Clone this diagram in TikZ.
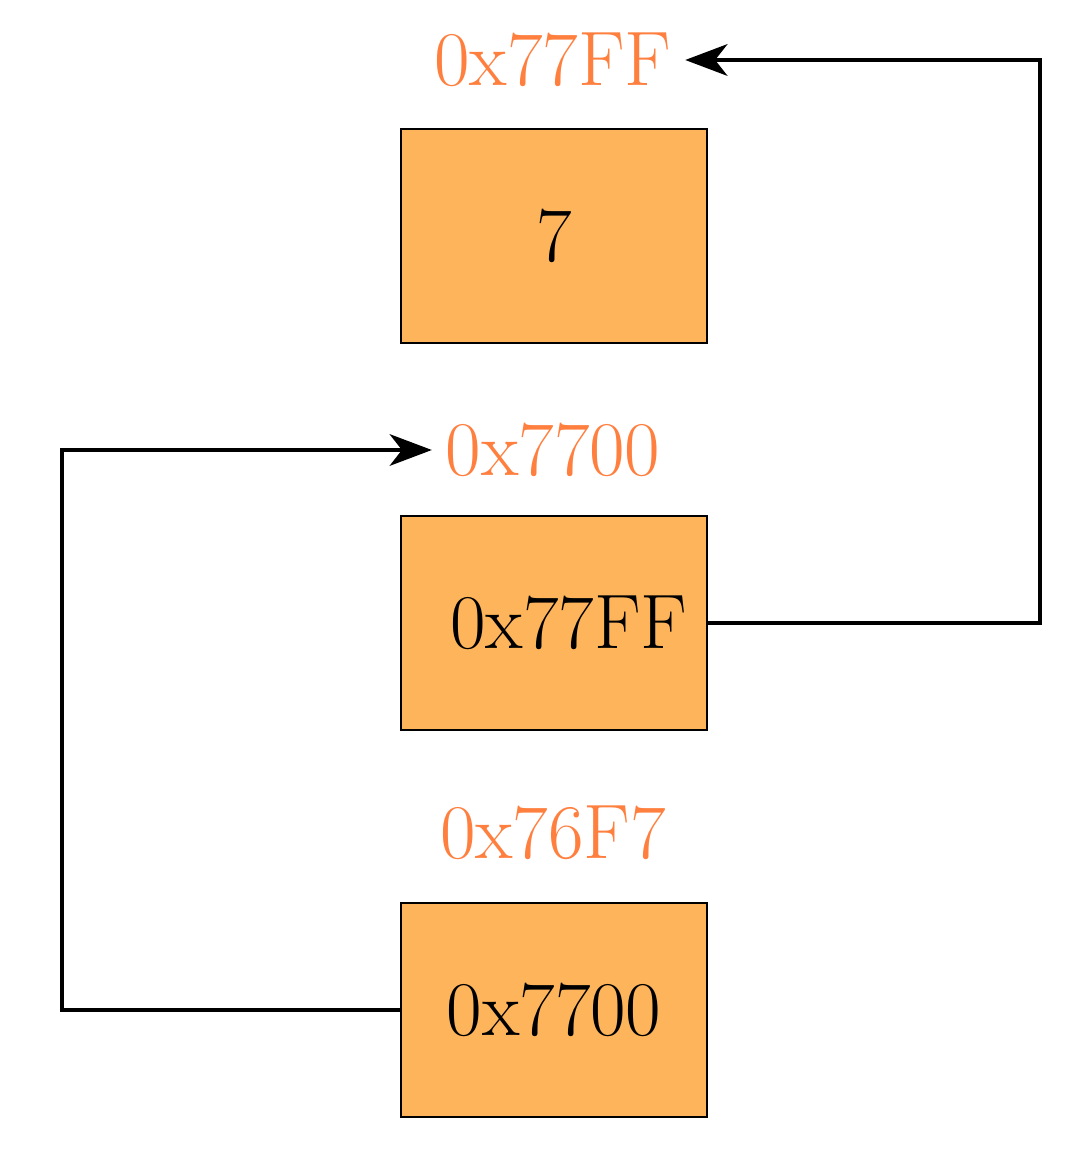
\documentclass[tikz,border=0pt]{standalone}
\usetikzlibrary{arrows.meta}

\definecolor{cellfill}{HTML}{FDB45A}
\definecolor{addrorange}{HTML}{FF7F3F}

\begin{document}
\begin{tikzpicture}[> = {Stealth[length=12pt, width=9pt, inset=3.5pt]}]

	% Definitions
	
	\def\W{3.06}	% Width of memory cell
	\def\H{2.14}	% Height of memory cell
	
	\tikzset{
		cell/.style = {draw, line width = 0.6pt, fill = cellfill, minimum width = \W cm, minimum height = \H cm, inner sep = 0pt, font = \fontsize{22}{26}\selectfont},
		addr/.style = {text = addrorange, inner sep = 0.13cm, font = \fontsize{22}{26}\selectfont},
		link/.style = {line width = 1.1pt}
	}
	
	\useasboundingbox (0, 0) rectangle (10.8, -11.52);
	
	% Draw memory cells
	
	\node [cell] (top) at (5.54, -2.36) {7};
	\node [cell] (mid) at (5.54, -6.23) {\hspace{0.3cm}0x77FF};
	\node [cell] (bot) at (5.54, -10.10) {0x7700};
	
	% Draw addresses
	
	\node [addr] (lbltop) at (5.53, -0.60) {0x77FF};
	\node [addr] (lblmid) at (5.53, -4.50) {0x7700};
	\node [addr] (lblbot) at (5.53, -8.33) {0x76F7};
	
	% Draw pointers
	
	\coordinate (rcorner) at (10.40, -0.60);
	\coordinate (lcorner) at (0.62, -4.50);
	
	\draw [link, ->] (mid.east) -| (rcorner) -- (lbltop.east);
	\draw [link, ->] (bot.west) -| (lcorner) -- (lblmid.west);
	
\end{tikzpicture}
\end{document}
